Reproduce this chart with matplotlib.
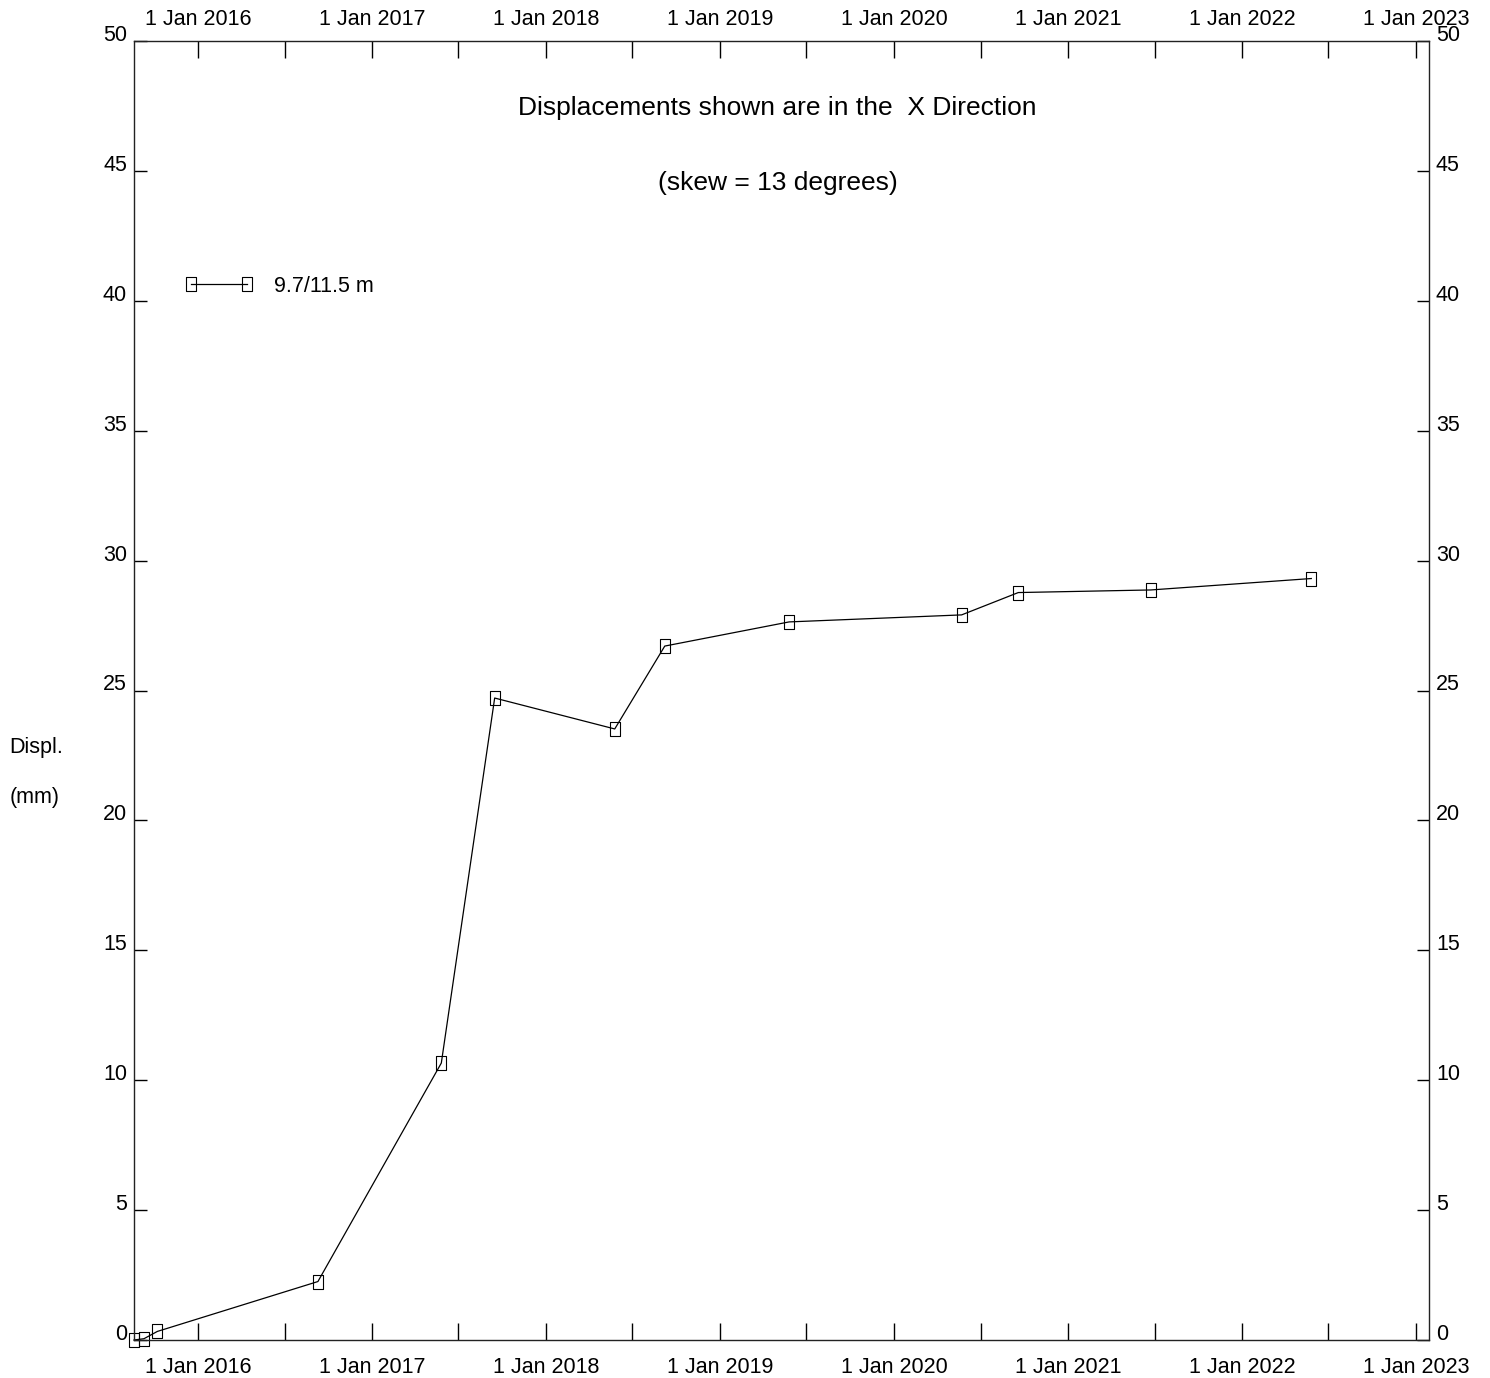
import datetime as dt
import numpy as np
import matplotlib
matplotlib.use('Agg')
import matplotlib.pyplot as plt
import matplotlib.dates as mdates
from matplotlib.path import Path

plt.rcParams['font.family'] = ['Liberation Sans', 'DejaVu Sans']

# survey dates and cumulative displacement (mm) for the 9.7/11.5 m reading
survey_dates = ['2015-08-20', '2015-09-10', '2015-10-08', '2016-09-09',
                '2017-05-26', '2017-09-15', '2018-05-25', '2018-09-07',
                '2019-05-26', '2020-05-22', '2020-09-18', '2021-06-23',
                '2022-05-26']
displ_mm = [0.0, 0.05, 0.33, 2.25, 10.66, 24.71, 23.52, 26.71,
            27.64, 27.91, 28.77, 28.87, 29.31]
series_label = '9.7/11.5 m'
direction = 'X'
skew_deg = 13

x_start = dt.datetime(2015, 8, 20)
x_end = dt.datetime(2023, 1, 28)

dates = [dt.datetime.strptime(d, '%Y-%m-%d') for d in survey_dates]

# tall open rectangle used as the point marker
rect = Path([(-0.35, -0.5), (0.35, -0.5), (0.35, 0.5), (-0.35, 0.5), (-0.35, -0.5)],
            [Path.MOVETO, Path.LINETO, Path.LINETO, Path.LINETO, Path.CLOSEPOLY])

fs = 15.5

fig = plt.figure(figsize=(14.90, 13.78), dpi=100)
ax = fig.add_axes([134 / 1490, 38 / 1378, 1295 / 1490, 1299 / 1378])

ax.plot(dates, displ_mm, color='black', linewidth=0.9,
        marker=rect, markersize=9.8, markerfacecolor='none',
        markeredgecolor='black', markeredgewidth=0.8, label=series_label,
        clip_on=False)

ax.set_xlim(x_start, x_end)
ax.set_ylim(0, 50)

ax.xaxis.set_major_locator(mdates.YearLocator())
ax.xaxis.set_minor_locator(mdates.MonthLocator(bymonth=7))
ax.xaxis.set_major_formatter(mdates.DateFormatter('1 Jan %Y'))
ax.yaxis.set_major_locator(plt.MultipleLocator(5))

ax.tick_params(axis='x', which='both', direction='in', length=12, width=1,
               top=True, labeltop=False, labelsize=fs, pad=12)
ax.tick_params(axis='y', which='both', direction='in', length=9, width=1,
               right=True, labelright=True, labelsize=fs, pad=5)

# date labels along the top edge
top = ax.secondary_xaxis('top')
top.xaxis.set_major_locator(mdates.YearLocator())
top.xaxis.set_major_formatter(mdates.DateFormatter('1 Jan %Y'))
top.tick_params(axis='x', which='both', length=0, labelsize=fs, pad=8)
top.spines['top'].set_visible(False)

fig.canvas.draw()
for tick in ax.yaxis.get_major_ticks():
    tick.label1.set_verticalalignment('baseline')
    tick.label2.set_verticalalignment('baseline')

for sp in ax.spines.values():
    sp.set_linewidth(1)
    sp.set_color('#222222')

ax.text(0.497, 0.9485, 'Displacements shown are in the  %s Direction' % direction,
        transform=ax.transAxes, ha='center', va='center', fontsize=19)
ax.text(0.497, 0.8905, '(skew = %d degrees)' % skew_deg,
        transform=ax.transAxes, ha='center', va='center', fontsize=19)

ax.legend(loc='upper left', bbox_to_anchor=(0.024, 0.834), frameon=False,
          numpoints=2, handlelength=3.2, handletextpad=0.95, fontsize=fs)

fig.text(9 / 1490, 1 - 748 / 1378, 'Displ.', ha='left', va='center', fontsize=fs)
fig.text(10 / 1490, 1 - 798 / 1378, '(mm)', ha='left', va='center', fontsize=fs)

fig.savefig('out.png', dpi=100)
